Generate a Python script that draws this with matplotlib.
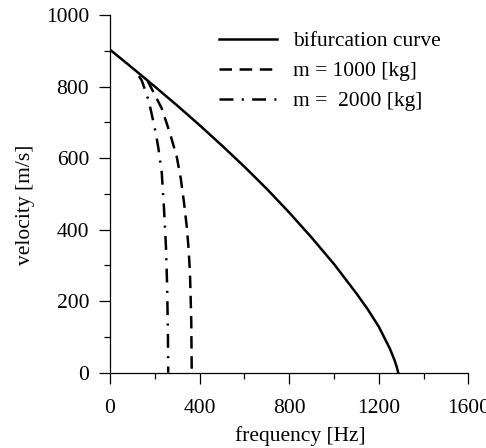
import numpy as np
import matplotlib
matplotlib.use("Agg")
import matplotlib.pyplot as plt
from matplotlib.ticker import MultipleLocator

# values
f_bif = [0, 100, 200, 300, 400, 500, 600, 700, 800, 900, 1000, 1100, 1150, 1200, 1250, 1270, 1280, 1287]
v_bif = [903, 852, 800, 747, 692, 635, 576, 514, 448, 378, 304, 222, 178, 129, 67, 36, 17, 0]

f_m1000 = [168, 200, 231, 268, 298, 316, 330, 342, 351, 357, 360, 363, 364, 365]
v_m1000 = [816, 777, 739, 669, 604, 543, 478, 413, 346, 280, 213, 140, 70, 0]

f_m2000 = [129, 141, 160, 175, 190, 205, 216, 231, 241, 250, 255, 258, 259.5, 260]
v_m2000 = [829, 818, 785, 755, 712, 668, 628, 560, 460, 350, 245, 135, 60, 0]

labels = ["bifurcation curve", "m = 1000 [kg]", "m =  2000 [kg]"]

matplotlib.rcParams['font.family'] = 'Liberation Serif'
matplotlib.rcParams['lines.scale_dashes'] = False

fs = 15.5

fig = plt.figure(figsize=(4.86, 4.48), dpi=100)
ax = fig.add_axes([110/486., 1 - 372.7/448., 358.3/486., 357.7/448.])

ax.plot(f_bif, v_bif, color="black", lw=1.8, label=labels[0])
ax.plot(f_m1000, v_m1000, color="black", lw=1.8, dashes=(9, 5.5), label=labels[1])
ax.plot(f_m2000, v_m2000, color="black", lw=1.8, dashes=(10, 6, 1.5, 6), label=labels[2])

ax.set_xlim(0, 1600)
ax.set_ylim(0, 1000)
ax.xaxis.set_major_locator(MultipleLocator(400))
ax.xaxis.set_minor_locator(MultipleLocator(200))
ax.yaxis.set_major_locator(MultipleLocator(200))
ax.yaxis.set_minor_locator(MultipleLocator(100))

for s in ["top", "right"]:
	ax.spines[s].set_visible(False)
for s in ["left", "bottom"]:
	ax.spines[s].set_linewidth(0.9)

ax.tick_params(which="major", direction="out", length=8, width=0.9, labelsize=fs)
ax.tick_params(which="minor", direction="out", length=4.5, width=0.9)
ax.tick_params(axis="x", which="major", pad=11)
ax.tick_params(axis="y", which="major", pad=7)

ax.set_xlabel("frequency [Hz]", fontsize=fs)
ax.set_ylabel("velocity [m/s]", fontsize=fs)
ax.xaxis.set_label_coords(0.53, -0.148)
ax.yaxis.set_label_coords(-0.21, 0.47)

ax.legend(loc="upper left", bbox_to_anchor=(219/486., 1 - 31/448.), bbox_transform=fig.transFigure,
	frameon=False, fontsize=fs, handlelength=2.7, handletextpad=0.74,
	labelspacing=0.47, borderpad=0, borderaxespad=0)

fig.savefig("out.png", dpi=100)
